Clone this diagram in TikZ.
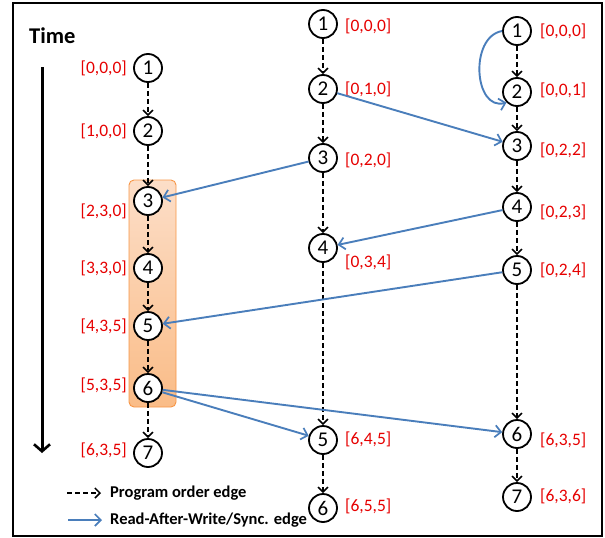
\documentclass[tikz,border=0pt]{standalone}
\usepackage{fontspec}
\setmainfont{Carlito}
\usetikzlibrary{arrows.meta}
\definecolor{rawblue}{RGB}{74,126,187}
\definecolor{lblred}{RGB}{230,0,0}
\definecolor{boxtop}{RGB}{252,222,200}
\definecolor{boxbot}{RGB}{250,188,135}
\definecolor{boxline}{RGB}{247,150,70}
\tikzset{
  ev/.style={circle,draw=black,line width=1.8pt,fill=white,minimum size=28pt,inner sep=0pt,font=\fontsize{21}{21}\selectfont},
  lbl/.style={text=lblred,font=\fontsize{17.5}{17.5}\selectfont,inner sep=0pt},
  po/.style={draw=black,line width=1.7pt,dash pattern=on 5pt off 3pt,-{Straight Barb[length=5pt,width=10pt,line width=1.5pt]}},
  raw/.style={draw=rawblue,line width=1.9pt,-{Straight Barb[length=6pt,width=12pt,line width=1.7pt]}},
  leg/.style={font=\bfseries\fontsize{16.5}{16.5}\selectfont,anchor=west,inner sep=0pt},
}
\begin{document}
\begin{tikzpicture}[x=1pt,y=-1pt]
\useasboundingbox (0,0) rectangle (605,538);
\draw[line width=2pt] (13,3) rectangle (602,536);
% highlight box
\shade[top color=boxtop,bottom color=boxbot,draw=boxline,line width=0.9pt,rounded corners=5pt] (129,180) rectangle (176,407);
% Time
\node[font=\bfseries\fontsize{22.5}{22.5}\selectfont,anchor=west,inner sep=0pt] (time) at (29,36) {Time};
\coordinate (tstart) at (42,67);
\coordinate (tend) at (42,453);
\draw[line width=3pt,-{Straight Barb[length=7pt,width=16pt,line width=2.6pt]}] (tstart) -- (tend);
% column 1
\node[ev] (a1) at (148,68) {1};
\node[ev] (a2) at (148,131) {2};
\node[ev] (a3) at (148,201) {3};
\node[ev] (a4) at (148,268) {4};
\node[ev] (a5) at (148,326) {5};
\node[ev] (a6) at (148,388) {6};
\node[ev] (a7) at (148,453) {7};
% column 2
\node[ev] (b1) at (323,24) {1};
\node[ev] (b2) at (323,89) {2};
\node[ev] (b3) at (323,158) {3};
\node[ev] (b4) at (323,248) {4};
\node[ev] (b5) at (323,440) {5};
\node[ev] (b6) at (323,508) {6};
% column 3
\node[ev] (c1) at (517,31) {1};
\node[ev] (c2) at (517,92) {2};
\node[ev] (c3) at (517,146) {3};
\node[ev] (c4) at (517,207) {4};
\node[ev] (c5) at (517,270) {5};
\node[ev] (c6) at (517,434) {6};
\node[ev] (c7) at (517,497) {7};
% labels column 1
\node[lbl,anchor=east] (la1) at (127,68) {[0,0,0]};
\node[lbl,anchor=east] (la2) at (127,131) {[1,0,0]};
\node[lbl,anchor=east] (la3) at (127,211) {[2,3,0]};
\node[lbl,anchor=east] (la4) at (127,268) {[3,3,0]};
\node[lbl,anchor=east] (la5) at (127,326) {[4,3,5]};
\node[lbl,anchor=east] (la6) at (127,385) {[5,3,5]};
\node[lbl,anchor=east] (la7) at (127,450) {[6,3,5]};
% labels column 2
\node[lbl,anchor=west] (lb1) at (345,26) {[0,0,0]};
\node[lbl,anchor=west] (lb2) at (345,89) {[0,1,0]};
\node[lbl,anchor=west] (lb3) at (345,160) {[0,2,0]};
\node[lbl,anchor=west] (lb4) at (345,262) {[0,3,4]};
\node[lbl,anchor=west] (lb5) at (345,439) {[6,4,5]};
\node[lbl,anchor=west] (lb6) at (345,506) {[6,5,5]};
% labels column 3
\node[lbl,anchor=west] (lc1) at (540,31) {[0,0,0]};
\node[lbl,anchor=west] (lc2) at (540,90) {[0,0,1]};
\node[lbl,anchor=west] (lc3) at (540,150) {[0,2,2]};
\node[lbl,anchor=west] (lc4) at (540,212) {[0,2,3]};
\node[lbl,anchor=west] (lc5) at (540,270) {[0,2,4]};
\node[lbl,anchor=west] (lc6) at (540,440) {[6,3,5]};
\node[lbl,anchor=west] (lc7) at (540,496) {[6,3,6]};
% program order edges
\foreach \u/\v in {a1/a2,a2/a3,a3/a4,a4/a5,a5/a6,a6/a7,b1/b2,b2/b3,b3/b4,b4/b5,b5/b6,c1/c2,c2/c3,c3/c4,c4/c5,c5/c6,c6/c7}
  \draw[po] (\u) -- (\v);
% read-after-write / sync edges
\draw[raw] (b2) -- (c3);
\draw[raw] (b3) -- (a3);
\draw[raw] (c4) -- (b4);
\draw[raw] (c5) -- (a5);
\draw[raw] (a6) -- (b5);
\draw[raw] (a6) -- (c6);
\draw[raw] (c1.west) to[out=190,in=195,looseness=1.2] (c2.south west);
% legend
\coordinate (p0) at (67,493);
\coordinate (p1) at (101,493);
\draw[po] (p0) -- (p1);
\node[leg] (lp) at (110,493) {Program order edge};
\coordinate (r0) at (68,520);
\coordinate (r1) at (102,520);
\draw[raw] (r0) -- (r1);
\node[leg] (lr) at (110,520) {Read-After-Write/Sync. edge};
\end{tikzpicture}
\end{document}
